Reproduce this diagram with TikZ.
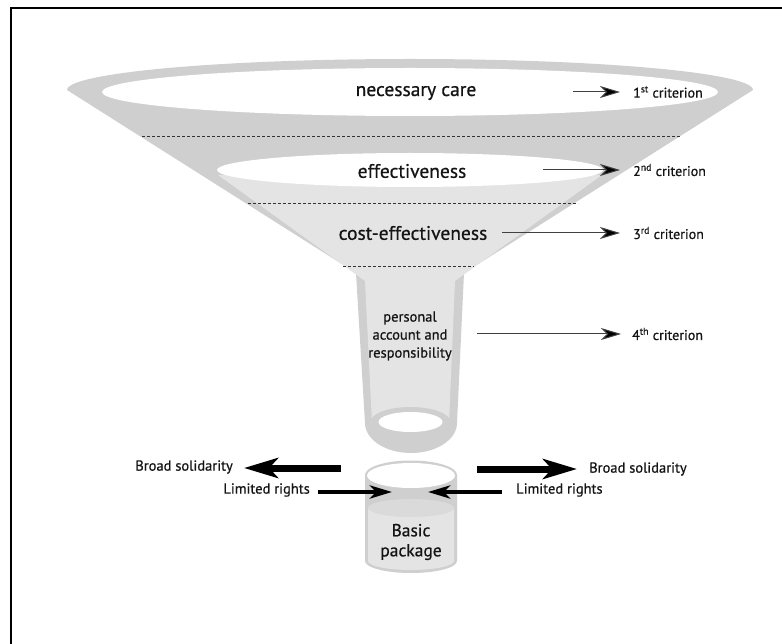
\documentclass[tikz,border=0pt]{standalone}
\usepackage{fontspec}
\setmainfont{PT Sans}[FakeBold=0.6]
\usetikzlibrary{arrows.meta}
\definecolor{fdark}{HTML}{CFCFCF}
\definecolor{flight}{HTML}{E4E4E4}
\definecolor{fliq}{HTML}{DADADA}
\definecolor{txt}{HTML}{141414}
\begin{document}
\begin{tikzpicture}[x=1pt,y=-1pt,
  darkfill/.style={fill=fdark},
  lightfill/.style={fill=flight},
  dashline/.style={draw=black!80,line width=0.8pt,dash pattern=on 3pt off 2pt},
  critarrow/.style={draw=black!75,line width=1pt,-{Stealth[length=20pt,width=12pt,inset=6pt,fill=black]}},
  bigarrow/.style={draw=black,line width=7pt,-{Stealth[length=34pt,width=20pt,inset=9pt]}},
  midarrow/.style={draw=black,line width=4.5pt,-{Stealth[length=22pt,width=13pt,inset=6pt]}},
  biglabel/.style={font=\fontsize{19.5}{22}\selectfont,text=txt,inner sep=0pt},
  critlabel/.style={font=\fontsize{14}{16}\selectfont,text=txt,inner sep=0pt,anchor=west},
  sidelabel/.style={font=\fontsize{14.5}{17}\selectfont,text=txt,inner sep=0pt},
  tubelabel/.style={font=\fontsize{14.5}{18}\selectfont,text=txt,inner sep=0pt,align=center},
  pkglabel/.style={font=\fontsize{17.5}{20}\selectfont,text=txt,inner sep=0pt,align=center}]
\useasboundingbox (0,0) rectangle (782,644);
\fill[white] (0,0) rectangle (782,644);
% frame
\coordinate (fbl) at (11,645);
\coordinate (ftl) at (11,8);
\coordinate (ftr) at (783,8);
\draw[line width=2.2pt] (fbl) -- (ftl) -- (ftr);
% funnel silhouette
\fill[darkfill] (67,90) arc[start angle=180,end angle=360,x radius=343,y radius=31]
  -- (464,273) -- (457,423) arc[start angle=0,end angle=180,x radius=46,y radius=30]
  -- (356,273) -- cycle;
% light interior
\fill[lightfill] (218,175) -- (365,281) -- (372,423) -- (449,423) -- (455,281) -- (602,175) -- cycle;
% top opening
\fill[white] (410,92) ellipse[x radius=308,y radius=24];
% effectiveness opening
\fill[white] (410,170) ellipse[x radius=193,y radius=17];
% tube end ring and hole
\fill[darkfill] (410.5,422) ellipse[x radius=40,y radius=15];
\fill[white] (410.5,422) ellipse[x radius=32,y radius=10];
% dashed separators
\coordinate (d1a) at (142,136); \coordinate (d1b) at (680,136);
\coordinate (d2a) at (248,203); \coordinate (d2b) at (578,203);
\coordinate (d3a) at (343,266); \coordinate (d3b) at (474,266);
\draw[dashline] (d1a) -- (d1b);
\draw[dashline] (d2a) -- (d2b);
\draw[dashline] (d3a) -- (d3b);
% cylinder
\fill[darkfill] (365,475) arc[start angle=180,end angle=360,x radius=46,y radius=14.5]
  -- (457,561) arc[start angle=0,end angle=180,x radius=46,y radius=12] -- cycle;
\fill[lightfill] (368,508) -- (368,561) arc[start angle=180,end angle=0,x radius=43,y radius=9] -- (454,508) -- cycle;
\fill[fliq] (411,508) ellipse[x radius=43,y radius=9];
\fill[white] (411,475.5) ellipse[x radius=44,y radius=12.5];
% labels
\node[biglabel] (nc) at (416,93) {necessary care};
\node[biglabel] (ef) at (412,171) {effectiveness};
\node[biglabel] (ce) at (413,233) {cost-effectiveness};
\node[tubelabel] (pa) at (410,336) {personal\\account and\\responsibility};
\node[pkglabel] (bp) at (411,542) {Basic\\package};
\node[critlabel] (c1) at (633,92) {1\textsuperscript{st} criterion};
\node[critlabel] (c2) at (633,170) {2\textsuperscript{nd} criterion};
\node[critlabel] (c3) at (633,233) {3\textsuperscript{rd} criterion};
\node[critlabel] (c4) at (632,334) {4\textsuperscript{th} criterion};
\node[sidelabel,anchor=east] (bsl) at (233,467) {Broad solidarity};
\node[sidelabel,anchor=west] (bsr) at (589,469) {Broad solidarity};
\node[sidelabel,anchor=east] (lrl) at (310,490) {Limited rights};
\node[sidelabel,anchor=west] (lrr) at (516,490) {Limited rights};
% criterion arrows
\coordinate (a1) at (573,92);
\coordinate (a2) at (543,170);
\coordinate (a3) at (502,233);
\coordinate (a4) at (477,334);
\draw[critarrow,shorten >=13pt] (a1) -- (c1.west);
\draw[critarrow,shorten >=13pt] (a2) -- (c2.west);
\draw[critarrow,shorten >=13pt] (a3) -- (c3.west);
\draw[critarrow,shorten >=11pt] (a4) -- (c4.west);
% solidarity arrows
\coordinate (bl) at (341,468);
\coordinate (br) at (477,469);
\draw[bigarrow,shorten >=11pt] (bl) -- (bl -| bsl.east);
\draw[bigarrow,shorten >=12pt] (br) -- (br -| bsr.west);
% limited rights arrows
\coordinate (ll) at (392,492);
\coordinate (lr) at (428,492);
\draw[midarrow,shorten <=8pt] (ll -| lrl.east) -- (ll);
\draw[midarrow,shorten <=14pt] (lr -| lrr.west) -- (lr);
\end{tikzpicture}
\end{document}
